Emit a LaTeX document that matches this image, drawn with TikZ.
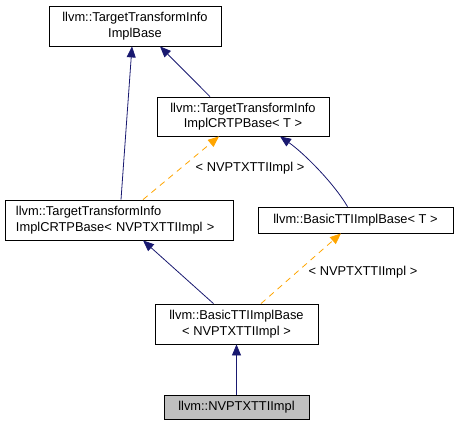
\documentclass[tikz,border=0pt]{standalone}
\usepackage{fontspec}
\setmainfont{Liberation Sans}
\usetikzlibrary{arrows.meta}
\definecolor{edgeblue}{HTML}{191970}
\definecolor{edgeorange}{HTML}{FFA500}
\definecolor{nodegray}{HTML}{BFBFBF}
\begin{document}
\begin{tikzpicture}[x=1bp,y=-1bp,
  box/.style={draw=black, line width=0.8bp, inner sep=0pt, font=\fontsize{12.9}{15.5}\selectfont, align=center},
  inh/.style={draw=edgeblue, line width=0.8bp, -{Triangle[length=11bp,width=9bp]}},
  tpl/.style={draw=edgeorange, line width=0.8bp, dash pattern=on 6bp off 5bp, -{Triangle[length=11bp,width=9bp]}},
  lbl/.style={font=\fontsize{12.9}{15.5}\selectfont, inner sep=0pt}]
\useasboundingbox (0,0) rectangle (458,427);
\node[box, minimum width=172bp, minimum height=40bp] (A) at (135,26) {llvm::TargetTransformInfo\\ImplBase};
\node[box, minimum width=172bp, minimum height=39bp] (B) at (243,116.5) {llvm::TargetTransformInfo\\ImplCRTPBase\textless{} T \textgreater};
\node[box, minimum width=228bp, minimum height=40bp, align=left, text width=206bp] (C) at (119,220) {llvm::TargetTransformInfo\\ImplCRTPBase\textless{} NVPTXTTIImpl \textgreater};
\node[box, minimum width=195bp, minimum height=26bp] (D) at (355.5,220) {llvm::BasicTTIImplBase\textless{} T \textgreater};
\node[box, minimum width=163bp, minimum height=40bp] (E) at (236.5,324) {llvm::BasicTTIImplBase\\\textless{} NVPTXTTIImpl \textgreater};
\node[box, fill=nodegray, minimum width=145bp, minimum height=24bp] (F) at (236.5,407) {llvm::NVPTXTTIImpl};

\draw[inh] ([xshift=2bp]C.north) -- ([xshift=-3bp]A.south);
\draw[inh] ([xshift=-33bp]B.north) -- ([xshift=25bp]A.south);
\draw[tpl] ([xshift=24bp]C.north) -- ([xshift=-24bp]B.south);
\draw[inh] ([xshift=-8bp]D.north) .. controls ([xshift=-22bp,yshift=24bp]D.north) and ([xshift=60bp,yshift=-16bp]B.south) .. ([xshift=37bp]B.south);
\draw[inh] ([xshift=-23bp]E.north) -- ([xshift=24bp]C.south);
\draw[tpl] ([xshift=24.5bp]E.north) -- ([xshift=-14.5bp]D.south);
\draw[inh] (F.north) -- (E.south);

\node[lbl] (L1) at (250,168) {\textless{} NVPTXTTIImpl \textgreater};
\node[lbl] (L2) at (363,272) {\textless{} NVPTXTTIImpl \textgreater};
\end{tikzpicture}
\end{document}
